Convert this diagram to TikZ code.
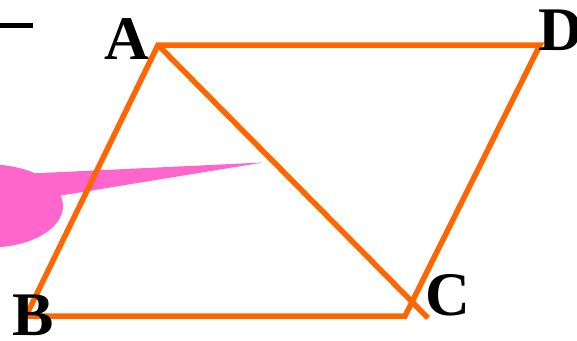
\documentclass[tikz,border=0pt]{standalone}
\usepackage{fontspec}
\setmainfont{Liberation Serif}
\definecolor{edgeorange}{HTML}{FF6600}
\definecolor{calloutpink}{HTML}{FF66CC}
\begin{document}
\begin{tikzpicture}[x=1pt,y=-1pt,
  edge/.style={draw=edgeorange,line width=5.5pt,line cap=butt,line join=miter},
  vlabel/.style={inner sep=0pt,anchor=base west,font=\fontsize{62}{62}\selectfont\bfseries}]
\useasboundingbox (0,0) rectangle (577,340);
% callout shape
\fill[calloutpink] (-10,206) ellipse [x radius=73, y radius=41.5];
\fill[calloutpink] (20,174) -- (263,162.5) -- (58,196) -- (20,200) -- cycle;
% black mark
\coordinate (m1) at (0,25.5);
\coordinate (m2) at (33,25.5);
\draw[line width=5.5pt] (m1) -- (m2);
% vertices
\coordinate (A) at (158,45);
\coordinate (D) at (540,45);
\coordinate (C) at (405,316);
\coordinate (B) at (26,316);
\coordinate (E) at (428,318);
\draw[edge] (B) -- (A) -- (D) -- (C) -- cycle;
\draw[edge] (A) -- (E);
% labels
\node[vlabel] (la) at (104,59) {A};
\node[vlabel] (ld) at (538,50) {D};
\node[vlabel] (lc) at (425,315) {C};
\node[vlabel] (lb) at (12,335) {B};
\end{tikzpicture}
\end{document}
